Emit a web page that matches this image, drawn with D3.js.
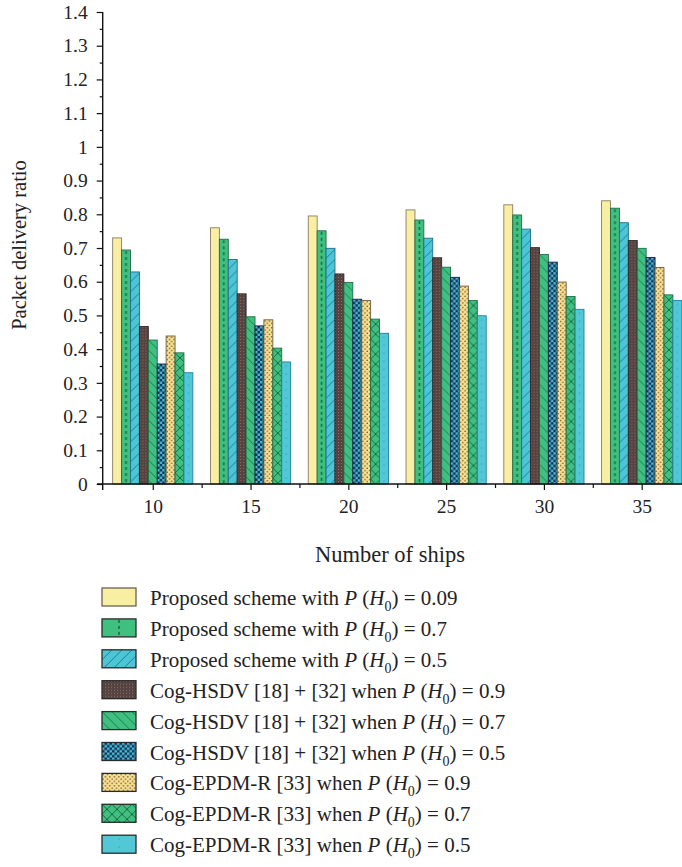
<!DOCTYPE html>
<html>
<head>
<meta charset="utf-8">
<script src="https://cdn.jsdelivr.net/npm/d3@7/dist/d3.min.js"></script>
<style>
  html, body { margin: 0; padding: 0; background: #fff; }
  svg { display: block; }
  text { font-family: "Liberation Serif", "DejaVu Serif", serif; fill: #222; }
</style>
</head>
<body>
<svg id="chart" width="682" height="867"></svg>
<script>
// ---------- DATA ----------
const categories = [10, 15, 20, 25, 30, 35];
const yTicks = [0, 0.1, 0.2, 0.3, 0.4, 0.5, 0.6, 0.7, 0.8, 0.9, 1, 1.1, 1.2, 1.3, 1.4];
const proposed009 = [0.730, 0.760, 0.795, 0.813, 0.828, 0.840];
const proposed07  = [0.694, 0.726, 0.751, 0.783, 0.798, 0.818];
const proposed05  = [0.629, 0.666, 0.699, 0.729, 0.756, 0.775];
const hsdv09      = [0.467, 0.564, 0.623, 0.671, 0.701, 0.722];
const hsdv07      = [0.427, 0.496, 0.598, 0.643, 0.681, 0.699];
const hsdv05      = [0.356, 0.469, 0.548, 0.613, 0.658, 0.672];
const epdm09      = [0.439, 0.487, 0.544, 0.587, 0.599, 0.642];
const epdm07      = [0.389, 0.403, 0.489, 0.544, 0.556, 0.561];
const epdm05      = [0.330, 0.362, 0.447, 0.499, 0.518, 0.544];
const legendPrefixes = [
  "Proposed scheme with", "Proposed scheme with", "Proposed scheme with",
  "Cog-HSDV [18] + [32] when", "Cog-HSDV [18] + [32] when", "Cog-HSDV [18] + [32] when",
  "Cog-EPDM-R [33] when", "Cog-EPDM-R [33] when", "Cog-EPDM-R [33] when"
];
const legendProbs = ["0.09", "0.7", "0.5", "0.9", "0.7", "0.5", "0.9", "0.7", "0.5"];
const seriesValues = [proposed009, proposed07, proposed05, hsdv09, hsdv07, hsdv05, epdm09, epdm07, epdm05];

// ---------- STYLES ----------
const styles = [
  { fill: "#f9efa2", stroke: "#8a7a62", kind: "plain" },
  { fill: "#3fc07f", stroke: "#1e6b45", kind: "dashcol", ink: "#1d6a44" },
  { fill: "#4cc6d3", stroke: "#1e6c8c", kind: "diagup", ink: "#2478a8" },
  { fill: "#4a3c3c", stroke: "#2e2424", kind: "fine", ink: "#9a7262" },
  { fill: "#40c080", stroke: "#1e6b45", kind: "diagdown", ink: "#1f7a4b" },
  { fill: "#1f2a55", stroke: "#18204a", kind: "checker", ink: "#3cc2d2" },
  { fill: "#f5e08e", stroke: "#6a5a40", kind: "dots", ink: "#6e4636" },
  { fill: "#40c080", stroke: "#1e6b45", kind: "cross", ink: "#1a6a40" },
  { fill: "#52c8d7", stroke: "#1f7f9f", kind: "faint", ink: "#36a2c2" }
];

const svg = d3.select("#chart");
svg.append("rect").attr("width", 682).attr("height", 867).attr("fill", "#fff");
const defs = svg.append("defs");

let patId = 0;
function makePattern(s, x0, y0, bw) {
  const st = styles[s];
  if (st.kind === "plain") return st.fill;
  const id = "p" + (patId++);
  let w = 6, h = 6;
  if (st.kind === "dashcol") { w = bw; h = 6; }
  if (st.kind === "diagup" || st.kind === "diagdown" || st.kind === "cross") { w = 10; h = 10; }
  if (st.kind === "fine") { w = 3; h = 3; }
  if (st.kind === "checker") { w = 5; h = 5; }
  if (st.kind === "dots") { w = 4.5; h = 4.5; }
  if (st.kind === "faint") { w = bw; h = 8; }
  const p = defs.append("pattern").attr("id", id).attr("patternUnits", "userSpaceOnUse")
    .attr("x", x0).attr("y", y0).attr("width", w).attr("height", h);
  p.append("rect").attr("width", w).attr("height", h).attr("fill", st.fill);
  if (st.kind === "dashcol") {
    p.append("rect").attr("x", w / 2 - 0.8).attr("y", 1).attr("width", 1.6).attr("height", 3).attr("fill", st.ink);
  } else if (st.kind === "diagup") {
    p.append("path").attr("d", "M-1,11 L11,-1 M-1,1 L1,-1 M9,11 L11,9").attr("stroke", st.ink).attr("stroke-width", 1);
  } else if (st.kind === "diagdown") {
    p.append("path").attr("d", "M-1,-1 L11,11 M9,-1 L11,1 M-1,9 L1,11").attr("stroke", st.ink).attr("stroke-width", 1);
  } else if (st.kind === "cross") {
    p.append("path").attr("d", "M-1,-1 L11,11 M-1,11 L11,-1").attr("stroke", st.ink).attr("stroke-width", 1);
  } else if (st.kind === "fine") {
    p.append("rect").attr("x", 0).attr("y", 0).attr("width", 1.2).attr("height", 1.2).attr("fill", st.ink);
    p.append("rect").attr("x", 1.5).attr("y", 1.5).attr("width", 1.2).attr("height", 1.2).attr("fill", "#6a5050");
  } else if (st.kind === "checker") {
    p.append("rect").attr("x", 0).attr("y", 0).attr("width", 2.5).attr("height", 2.5).attr("fill", st.ink);
    p.append("rect").attr("x", 2.5).attr("y", 2.5).attr("width", 2.5).attr("height", 2.5).attr("fill", st.ink);
  } else if (st.kind === "dots") {
    p.append("circle").attr("cx", 1.1).attr("cy", 1.1).attr("r", 0.75).attr("fill", st.ink);
    p.append("circle").attr("cx", 3.35).attr("cy", 3.35).attr("r", 0.75).attr("fill", st.ink);
  } else if (st.kind === "faint") {
    p.append("circle").attr("cx", w / 2).attr("cy", 4).attr("r", 0.8).attr("fill", st.ink);
  }
  return "url(#" + id + ")";
}

// ---------- SCALES ----------
const x = d3.scaleLinear().domain([7.44, 37.46]).range([102.7, 689.8]);
const y = d3.scaleLinear().domain([0, 1.4]).range([484, 12]);
const groupHalf = 2.05; // data units on the x scale
const band = d3.scaleBand().domain(d3.range(9)).range([-groupHalf, groupHalf]).padding(0);

// ---------- BARS ----------
const barsG = svg.append("g");
categories.forEach((c, gi) => {
  seriesValues.forEach((vals, s) => {
    const x0 = x(c + band(s));
    const x1 = x(c + band(s) + band.bandwidth());
    const bw = x1 - x0;
    const yTop = y(vals[gi]);
    barsG.append("rect")
      .attr("x", x0).attr("y", yTop)
      .attr("width", bw).attr("height", y(0) - yTop)
      .attr("fill", makePattern(s, x0, yTop, bw))
      .attr("stroke", styles[s].stroke).attr("stroke-width", 0.9);
  });
});

// ---------- AXES ----------
const fmt = d => String(+d.toFixed(1));
const yAxis = svg.append("g").attr("transform", "translate(102.7,0)")
  .call(d3.axisLeft(y).tickValues(yTicks).tickFormat(fmt).tickSize(6).tickSizeOuter(0).tickPadding(9));
const yMinor = svg.append("g").attr("transform", "translate(102.7,0)")
  .call(d3.axisLeft(y).tickValues(yTicks.slice(0, -1).map(v => v + 0.05)).tickFormat("").tickSize(3).tickSizeOuter(0));
yMinor.select(".domain").remove();
yAxis.select(".domain").remove();

const xAxis = svg.append("g").attr("transform", "translate(0,484)")
  .call(d3.axisBottom(x).tickValues(categories).tickSize(6).tickSizeOuter(0).tickPadding(9));
xAxis.select(".domain").remove();
const xMinor = svg.append("g").attr("transform", "translate(0,484)")
  .call(d3.axisBottom(x).tickValues([12.5, 17.5, 22.5, 27.5, 32.5]).tickFormat("").tickSize(4).tickSizeOuter(0));
xMinor.select(".domain").remove();

svg.append("line").attr("x1", 102.7).attr("x2", 102.7).attr("y1", 12).attr("y2", 490)
  .attr("stroke", "#111").attr("stroke-width", 1.4);
svg.append("line").attr("x1", 97).attr("x2", 682).attr("y1", 484).attr("y2", 484)
  .attr("stroke", "#111").attr("stroke-width", 1.4);

svg.selectAll(".tick line").attr("stroke", "#111").attr("stroke-width", 1.2);
svg.selectAll(".tick text").style("font-family", "'Liberation Serif', serif").style("font-size", "19.5px").attr("fill", "#222");

// axis titles
svg.append("text").attr("x", 390).attr("y", 562).attr("text-anchor", "middle")
  .style("font-size", "22.5px").text("Number of ships");
svg.append("text").attr("transform", "translate(26,245) rotate(-90)").attr("text-anchor", "middle")
  .style("font-size", "20.5px").text("Packet delivery ratio");

// ---------- LEGEND ----------
const legend = svg.append("g");
legendPrefixes.forEach((pre, i) => {
  const cy = 597 + i * 30.9;
  const sx = 102, sw = 34, sh = 18;
  legend.append("rect").attr("x", sx).attr("y", cy - sh / 2).attr("width", sw).attr("height", sh)
    .attr("fill", makePattern(i, sx, cy - sh / 2, sw))
    .attr("stroke", i === 0 ? "#6a6050" : "#2a2a2a").attr("stroke-width", 1.3);
  const t = legend.append("text").attr("x", 150).attr("y", cy + 8).style("font-size", "21px");
  t.append("tspan").text(pre + " ");
  t.append("tspan").style("font-style", "italic").text("P");
  t.append("tspan").text(" (");
  t.append("tspan").style("font-style", "italic").text("H");
  t.append("tspan").attr("dy", 6).style("font-size", "14px").text("0");
  t.append("tspan").attr("dy", -6).text(") = " + legendProbs[i]);
});
</script>
</body>
</html>
